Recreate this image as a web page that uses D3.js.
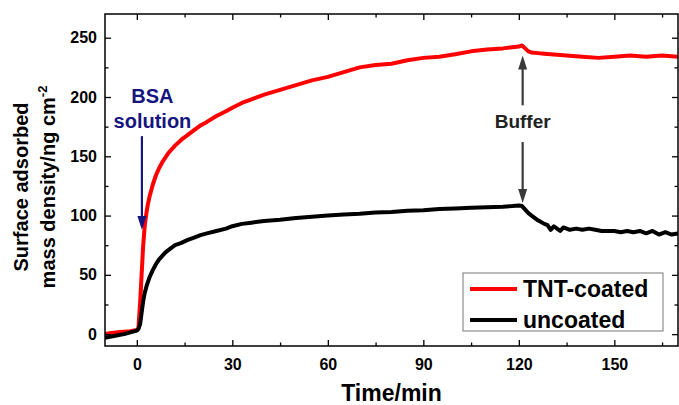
<!DOCTYPE html>
<html>
<head>
<meta charset="utf-8">
<script src="https://cdn.jsdelivr.net/npm/d3@7"></script>
<style>
  body { margin: 0; background: #fff; }
  svg { display: block; font-family: "Liberation Sans", Arial, sans-serif; font-weight: bold; }
</style>
</head>
<body>
<svg></svg>
<script>
const width = 679;
const height = 405;

// time (min) and surface mass density (ng cm-2)
const tnt_time = [-10,-8,-6,-4,-2,0,0.5,1,1.5,2,2.5,3,3.5,4,5,6,7,8,9,10,12,14,16,18,20,22,25,28,30,33,36,40,45,50,55,60,65,70,75,80,85,90,95,100,105,110,115,118,120,121,122,123,124,126,128,130,135,140,145,150,155,160,165,170];
const tnt_mass = [0,1,1.5,2,2.5,3.5,5,25,50,75,92,102,110,116,126,134,140,145,149,153,159,164,168,172,176,179,184,188,191,195,198,202,206,210,214,217,221,225,227,228,231,233,234,236,238.5,240,241,242,242.5,243.5,241,238.5,237.5,237,236.5,236,235,234,233,234,235,234,235,234];

const unc_time = [-10,-8,-6,-4,-2,0,0.5,1,1.5,2,2.5,3,3.5,4,5,6,7,8,9,10,12,14,16,18,20,22,25,28,30,33,36,40,45,50,55,60,65,70,75,80,85,90,95,100,105,110,115,118,120,121,122,123,124,126,128,129,130,131,132,133,134,136,138,140,142,144,146,148,150,152,154,156,158,160,162,164,166,168,170];
const unc_mass = [-3,-2,-1,0,1.5,3,4.5,8,18,28,35,40,44,48,54,59,63,66,69,71,75,77,79.5,81.5,83.5,85,87,89,91,93,94,95.5,96.5,98,99,100,101,101.5,102.5,103,104,104.5,105.5,106,106.5,107,107.5,108,108.5,108,105,102,100,96,93,92,88,91,89,87,90,88,89,88,89,88,87,87,87,86,87,86,87,85,87,84,86,84,85];

const x_major = [0,30,60,90,120,150];
const x_minor = [15,45,75,105,135,165];
const y_major = [0,50,100,150,200,250];
const y_minor = [25,75,125,175,225];

const series = [
    {name: 'TNT-coated', color: '#ff0000', time: tnt_time, mass: tnt_mass},
    {name: 'uncoated', color: '#000000', time: unc_time, mass: unc_mass}
];

const margin = {top: 14, right: 1, bottom: 59, left: 105};
const pw = width - margin.left - margin.right;
const ph = height - margin.top - margin.bottom;

let svg = d3.select('svg').attr('width', width).attr('height', height);
let g = svg.append('g').attr('transform', `translate(${margin.left},${margin.top})`);

let x = d3.scaleLinear().domain([-10, 170]).range([0, pw]);
let y = d3.scaleLinear().domain([-10, 270]).range([ph, 0]);

// curves
let line = d3.line().x(d => x(d[0])).y(d => y(d[1]));
g.append('defs').append('clipPath').attr('id', 'clip')
    .append('rect').attr('width', pw).attr('height', ph);
series.forEach(s => {
    g.append('path')
	.datum(s.time.map((t, i) => [t, s.mass[i]]))
	.attr('clip-path', 'url(#clip)')
	.attr('fill', 'none')
	.attr('stroke', s.color)
	.attr('stroke-width', 4)
	.attr('stroke-linejoin', 'round')
	.attr('d', line);
});

// axes, ticks pointing inward on all four sides
let style_axis = sel => {
    sel.select('.domain').remove();
    sel.selectAll('line').attr('stroke', '#000').attr('stroke-width', 1.3);
    sel.selectAll('text').attr('fill', '#000').style('font-size', '16px');
};
g.append('g').attr('transform', `translate(0,${ph})`)
    .call(d3.axisBottom(x).tickValues(x_major).tickSize(-6).tickPadding(13).tickFormat(d3.format('d')))
    .call(style_axis);
g.append('g').attr('transform', `translate(0,${ph})`)
    .call(d3.axisBottom(x).tickValues(x_minor).tickSize(-3.5).tickFormat(''))
    .call(style_axis);
g.append('g')
    .call(d3.axisTop(x).tickValues(x_major).tickSize(-6).tickFormat(''))
    .call(style_axis);
g.append('g')
    .call(d3.axisTop(x).tickValues(x_minor).tickSize(-3.5).tickFormat(''))
    .call(style_axis);
g.append('g')
    .call(d3.axisLeft(y).tickValues(y_major).tickSize(-6).tickPadding(8).tickFormat(d3.format('d')))
    .call(style_axis);
g.append('g')
    .call(d3.axisLeft(y).tickValues(y_minor).tickSize(-3.5).tickFormat(''))
    .call(style_axis);
g.append('g').attr('transform', `translate(${pw},0)`)
    .call(d3.axisRight(y).tickValues(y_major).tickSize(-6).tickFormat(''))
    .call(style_axis);
g.append('g').attr('transform', `translate(${pw},0)`)
    .call(d3.axisRight(y).tickValues(y_minor).tickSize(-3.5).tickFormat(''))
    .call(style_axis);

g.append('rect')
    .attr('width', pw).attr('height', ph)
    .attr('fill', 'none').attr('stroke', '#000').attr('stroke-width', 1.5);

// axis titles
svg.append('text')
    .attr('x', margin.left + pw / 2).attr('y', 401)
    .attr('text-anchor', 'middle').style('font-size', '23px')
    .text('Time/min');

let ytitle = svg.append('g').attr('transform', 'translate(0,187) rotate(-90)');
ytitle.append('text')
    .attr('x', 0).attr('y', 28)
    .attr('text-anchor', 'middle').style('font-size', '20px')
    .text('Surface adsorbed');
let yt2 = ytitle.append('text')
    .attr('x', 0).attr('y', 55)
    .attr('text-anchor', 'middle').style('font-size', '20px');
yt2.append('tspan').text('mass density/ng cm');
yt2.append('tspan').attr('dy', -8).style('font-size', '13px').text('-2');

// arrow helper: shaft from (x0,y0) to a filled head whose tip sits at (x0,y1)
let arrow = (x0, y0, y1, color) => {
    let px = x(x0), p0 = y(y0), p1 = y(y1);
    let dir = p1 > p0 ? 1 : -1;
    g.append('line')
	.attr('x1', px).attr('x2', px)
	.attr('y1', p0).attr('y2', p1 - dir * 12)
	.attr('stroke', color).attr('stroke-width', 2.2);
    g.append('path')
	.attr('d', `M${px - 4.5},${p1 - dir * 14}L${px + 4.5},${p1 - dir * 14}L${px},${p1}Z`)
	.attr('fill', color);
};

// BSA solution annotation
const navy = '#15157f';
g.append('text').attr('x', x(4.9)).attr('y', y(194.6))
    .attr('text-anchor', 'middle').attr('fill', navy).style('font-size', '20px').text('BSA');
g.append('text').attr('x', x(4.9)).attr('y', y(173.6))
    .attr('text-anchor', 'middle').attr('fill', navy).style('font-size', '20px').text('solution');
arrow(1.6, 167, 87.8, navy);

// Buffer annotation
const grey = '#3a3a3a';
g.append('text').attr('x', x(121.2)).attr('y', y(174))
    .attr('text-anchor', 'middle').attr('fill', '#222').style('font-size', '19px').text('Buffer');
arrow(121.2, 193, 235, grey);
arrow(121.2, 162, 110.5, grey);

// legend
let legend = svg.append('g').attr('transform', 'translate(463,273)');
legend.append('rect')
    .attr('width', 200).attr('height', 58)
    .attr('fill', '#fff').attr('stroke', '#777').attr('stroke-width', 1);
series.forEach((s, i) => {
    let ly = 16 + i * 31;
    legend.append('line')
	.attr('x1', 7).attr('x2', 54).attr('y1', ly).attr('y2', ly)
	.attr('stroke', s.color).attr('stroke-width', 4);
    legend.append('text')
	.attr('x', 60).attr('y', ly + 7.5)
	.style('font-size', '23px').attr('fill', '#000')
	.text(s.name);
});
</script>
</body>
</html>
